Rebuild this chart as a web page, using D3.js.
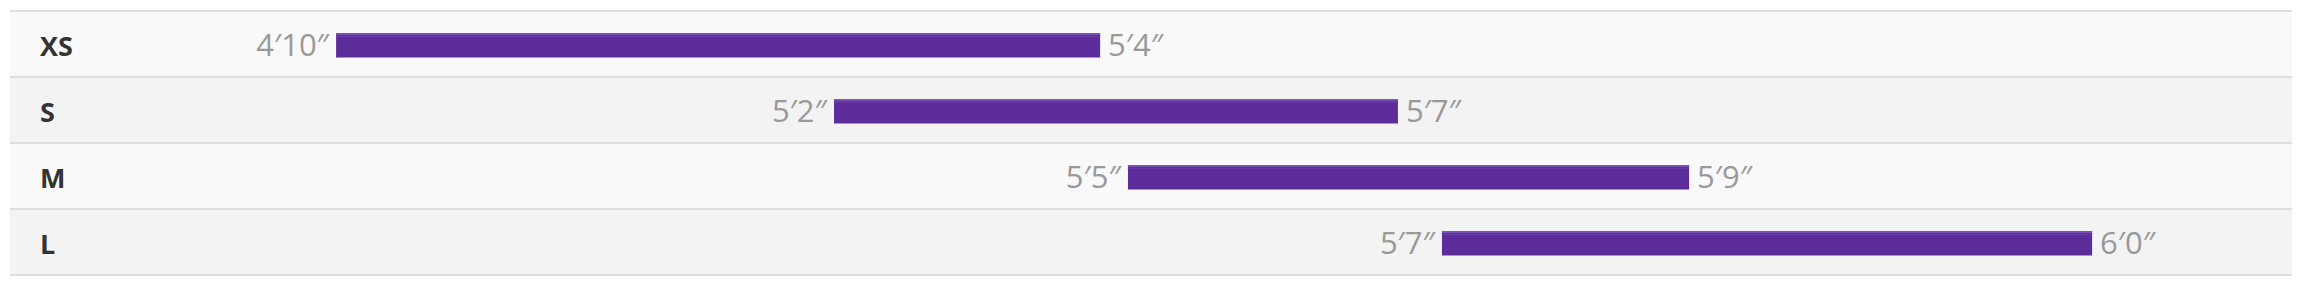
<!DOCTYPE html>
<html>
<head>
<meta charset="utf-8">
<script src="https://cdn.jsdelivr.net/npm/d3@7/dist/d3.min.js"></script>
<style>
  html, body { margin: 0; padding: 0; background: #ffffff; }
  svg { display: block; }
</style>
</head>
<body>
<svg id="chart" width="2302" height="290"></svg>
<script>
// Size categories
const sizes = ["XS", "S", "M", "L"];
// Height range labels (from / to)
const fromLabels = ["4\u203210\u2033", "5\u20322\u2033", "5\u20325\u2033", "5\u20327\u2033"];
const toLabels = ["5\u20324\u2033", "5\u20327\u2033", "5\u20329\u2033", "6\u20320\u2033"];
// Bar extents, in percent of the row width
const barStart = [14.29, 36.11, 48.99, 62.75];
const barEnd = [47.77, 60.82, 73.58, 91.24];

const rows = sizes.map((s, i) => ({
  size: s, from: fromLabels[i], to: toLabels[i], start: barStart[i], end: barEnd[i], i
}));

const svg = d3.select("#chart");

const x = d3.scaleLinear().domain([0, 100]).range([10, 2292]);
const y = d3.scaleBand().domain(sizes).range([10, 274]).padding(0);
const rh = y.bandwidth();

const g = svg.selectAll("g.row").data(rows).join("g")
  .attr("class", "row")
  .attr("transform", d => `translate(0,${y(d.size)})`);

// row backgrounds
g.append("rect")
  .attr("x", x(0)).attr("y", 0)
  .attr("width", x(100) - x(0)).attr("height", rh)
  .attr("fill", d => d.i % 2 === 0 ? "#f9f9f9" : "#f3f3f3");

// row separator lines
g.append("rect")
  .attr("x", x(0)).attr("y", 0)
  .attr("width", x(100) - x(0)).attr("height", 2)
  .attr("fill", "#dedede");

svg.append("rect")
  .attr("x", x(0)).attr("y", y.range()[1])
  .attr("width", x(100) - x(0)).attr("height", 2)
  .attr("fill", "#dedede");

// category labels
g.append("text")
  .attr("x", 40).attr("y", 46)
  .attr("font-family", "'Open Sans', sans-serif")
  .attr("font-weight", 700)
  .attr("font-size", 27)
  .attr("fill", "#333333")
  .text(d => d.size);

// bars
const barTop = 23, barH = 25;
g.append("rect")
  .attr("x", d => x(d.start)).attr("y", barTop)
  .attr("width", d => x(d.end) - x(d.start)).attr("height", barH)
  .attr("fill", "#5c2d9a");
g.append("rect")
  .attr("x", d => x(d.start)).attr("y", barTop)
  .attr("width", d => x(d.end) - x(d.start)).attr("height", 2)
  .attr("fill", "#7c52b8");
g.append("rect")
  .attr("x", d => x(d.start)).attr("y", barTop + 3)
  .attr("width", d => x(d.end) - x(d.start)).attr("height", 1)
  .attr("fill", "#6a3ca9");
g.append("rect")
  .attr("x", d => x(d.start)).attr("y", barTop + barH - 1)
  .attr("width", d => x(d.end) - x(d.start)).attr("height", 1)
  .attr("fill", "#a890cc");

// value labels
g.append("text")
  .attr("x", d => x(d.start) - 7).attr("y", 46)
  .attr("text-anchor", "end")
  .attr("font-family", "'Open Sans', sans-serif")
  .attr("font-weight", 400)
  .attr("font-size", 31)
  .attr("fill", "#999999")
  .text(d => d.from);
g.append("text")
  .attr("x", d => x(d.end) + 8).attr("y", 46)
  .attr("text-anchor", "start")
  .attr("font-family", "'Open Sans', sans-serif")
  .attr("font-weight", 400)
  .attr("font-size", 31)
  .attr("fill", "#999999")
  .text(d => d.to);
</script>
</body>
</html>
